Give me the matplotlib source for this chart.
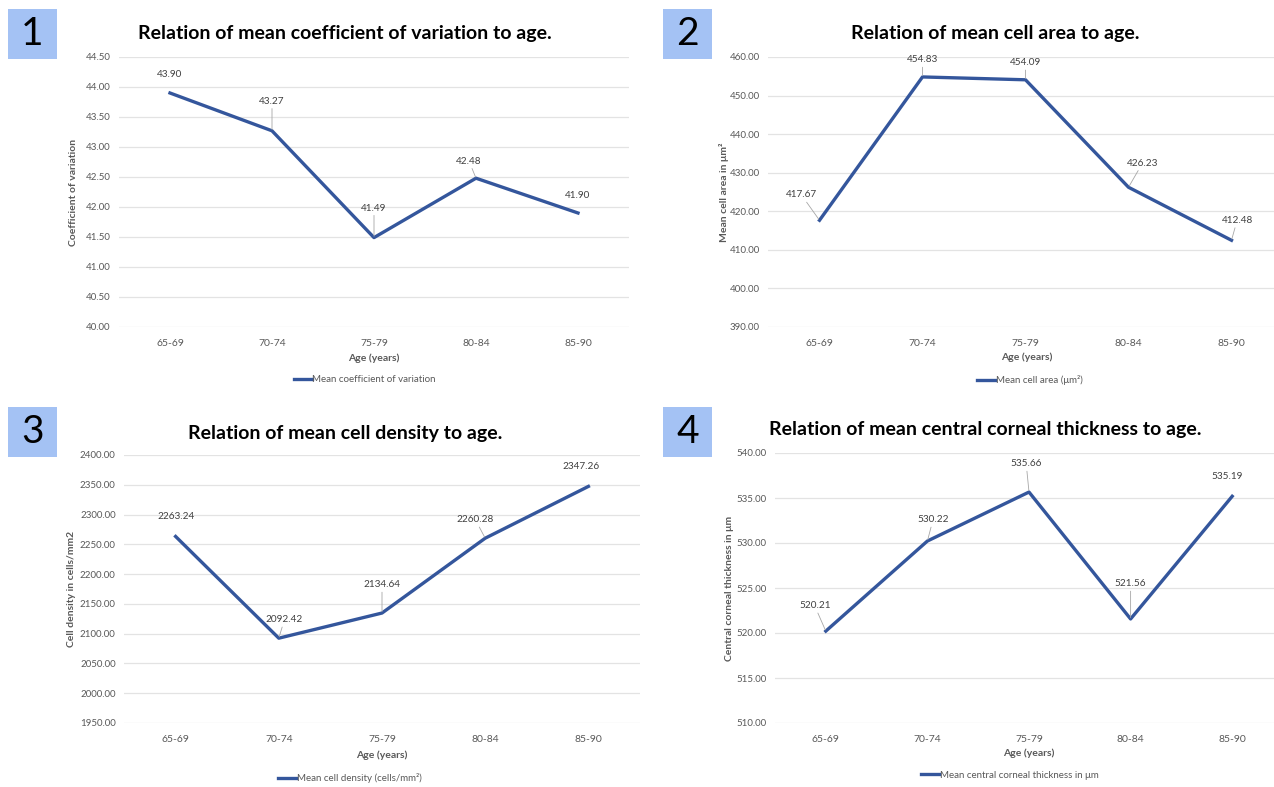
import matplotlib
matplotlib.use("Agg")
import matplotlib.pyplot as plt
from matplotlib.patches import Rectangle

plt.rcParams['font.family'] = ['Lato', 'DejaVu Sans']

W, H = 1274, 787

age_groups = ["65-69", "70-74", "75-79", "80-84", "85-90"]

cov_values = [43.90, 43.27, 41.49, 42.48, 41.90]
area_values = [417.67, 454.83, 454.09, 426.23, 412.48]
density_values = [2263.24, 2092.42, 2134.64, 2260.28, 2347.26]
cct_values = [520.21, 530.22, 535.66, 521.56, 535.19]

titles = [
    "Relation of mean coefficient of variation to age.",
    "Relation of mean cell area to age.",
    "Relation of mean cell density to age.",
    "Relation of mean central corneal thickness to age.",
]
ylabels = [
    "Coefficient of variation",
    "Mean cell area in \u03bcm\u00b2",
    "Cell density in cells/mm2",
    "Central corneal thickness in \u03bcm",
]
legend_labels = [
    "Mean coefficient of variation",
    "Mean cell area (\u03bcm\u00b2)",
    "Mean cell density (cells/mm\u00b2)",
    "Mean central corneal thickness in \u03bcm",
]
y_ranges = [(40.0, 44.5, 0.5), (390.0, 460.0, 10.0),
             (1950.0, 2400.0, 50.0), (510.0, 540.0, 5.0)]

# label offsets in points (dx, dy) and whether a leader line is drawn
label_offsets = [
    [(0, 10, False), (0, 18, True), (0, 18, True), (-5, 9, True), (0, 9, False)],
    [(-13, 15, True), (0, 9, True), (0, 9, True), (10, 14, True), (4, 11, True)],
    [(0, 11, False), (4, 10, True), (0, 17, True), (-7, 10, True), (-5, 11, False)],
    [(-8, 15, True), (4, 12, True), (-2, 17, True), (0, 22, True), (-4, 11, False)],
]

series = [cov_values, area_values, density_values, cct_values]

# layout in pixels: left, right, top, bottom of plot area
boxes = [(119, 629, 57, 327), (768, 1283, 57, 327),
         (124, 640, 455, 723), (775, 1283, 453, 723)]
title_pos = [(345, 33), (995, 33), (345, 433), (985, 430)]
badge_pos = [(8, 9), (663, 9), (8, 407), (663, 407)]
xlabel_y = [358, 357, 755, 753]
legend_pos = [(365, 380), (1030, 380), (350, 778), (1010, 775)]
ylabel_x = [74, 724, 72, 729]

line_color = '#34569C'
grey = '#595959'

fig = plt.figure(figsize=(W / 100, H / 100), dpi=100)


def fx(x):
    return x / W


def fy(y):
    return 1 - y / H


for i in range(4):
    l, r, t, b = boxes[i]
    ax = fig.add_axes([fx(l), fy(b), (r - l) / W, (b - t) / H])
    x = list(range(len(age_groups)))
    ax.plot(x, series[i], color=line_color, lw=2.4, solid_joinstyle='round',
            label=legend_labels[i], zorder=3)
    lo, hi, step = y_ranges[i]
    ticks = [lo + k * step for k in range(int(round((hi - lo) / step)) + 1)]
    ax.set_ylim(lo, hi)
    ax.set_yticks(ticks)
    ax.set_yticklabels([f"{v:.2f}" for v in ticks], fontsize=7, color=grey)
    ax.set_xlim(-0.5, 4.5)
    ax.set_xticks(x)
    ax.set_xticklabels(age_groups, fontsize=7.5, color=grey)
    ax.tick_params(length=0, pad=6)
    ax.tick_params(axis='x', pad=9)
    for s in ax.spines.values():
        s.set_visible(False)
    ax.grid(axis='y', color='#E3E3E3', lw=0.9)
    ax.set_axisbelow(True)

    for j, v in enumerate(series[i]):
        dx, dy, leader = label_offsets[i][j]
        ax.annotate(f"{v:.2f}", (j, v), xytext=(dx, dy), textcoords='offset points',
                    ha='center', va='bottom', fontsize=7.2, color='#404040',
                    arrowprops=dict(arrowstyle='-', color='#A6A6A6', lw=0.6,
                                    shrinkA=0, shrinkB=1) if leader else None,
                    zorder=4)

    fig.text(fx(ylabel_x[i]), fy((t + b) / 2), ylabels[i], rotation=90,
             ha='center', va='center', fontsize=7.5, fontweight='bold', color=grey)
    fig.text(fx((l + r) / 2 if i != 1 else 1027), fy(xlabel_y[i]), "Age (years)",
             ha='center', va='center', fontsize=7.5, fontweight='bold', color=grey)
    fig.legend(handles=ax.get_lines(), loc='center',
               bbox_to_anchor=(fx(legend_pos[i][0]), fy(legend_pos[i][1])),
               frameon=False, fontsize=7, labelcolor=grey, handlelength=1.8,
               handletextpad=0.1)

    fig.text(fx(title_pos[i][0]), fy(title_pos[i][1]), titles[i], ha='center',
             va='center', fontsize=14, fontweight='bold', color='black')

    bx, by = badge_pos[i]
    fig.add_artist(Rectangle((fx(bx), fy(by + 50)), 49 / W, 50 / H,
                             transform=fig.transFigure, facecolor='#A4C2F4',
                             edgecolor='none'))
    fig.text(fx(bx + 24.5), fy(by + 25), str(i + 1), ha='center', va='center',
             fontsize=28, color='black')

fig.savefig("out.png", dpi=100)
